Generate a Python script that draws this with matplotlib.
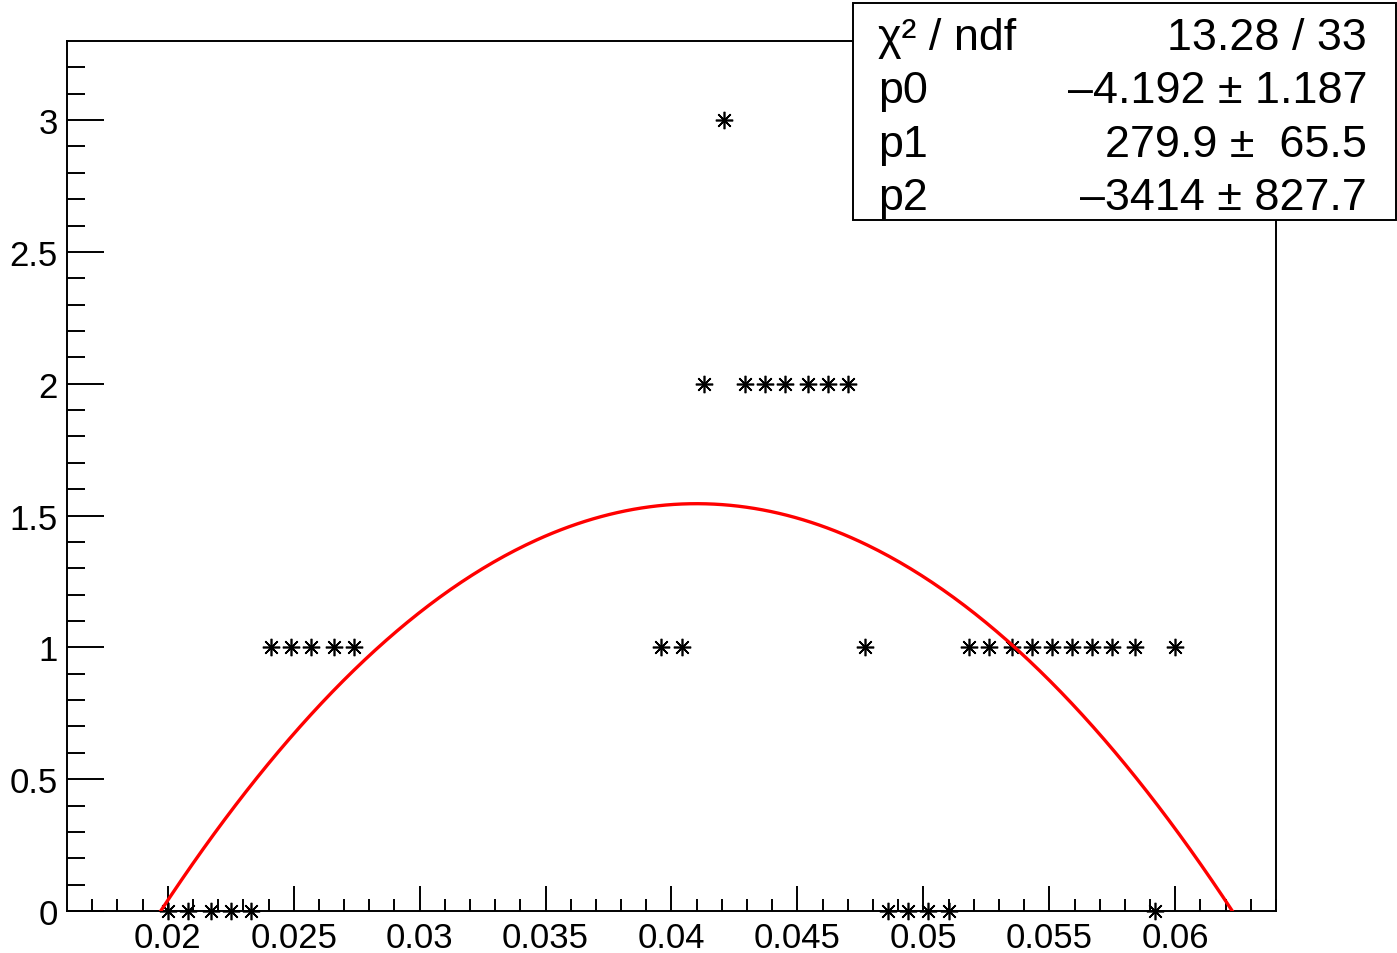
import numpy as np
import matplotlib
matplotlib.use("Agg")
import matplotlib.pyplot as plt

plt.rcParams['font.family'] = ['Liberation Sans', 'DejaVu Sans']

# histogram entries (x, content)
x_zero = [0.0200, 0.0208, 0.0217, 0.0225, 0.0233,
          0.0486, 0.0494, 0.0502, 0.0510, 0.0592]
x_one = [0.0241, 0.0249, 0.0257, 0.0266, 0.0274,
         0.0396, 0.0404, 0.0477,
         0.0518, 0.0526, 0.0535, 0.0543, 0.0551, 0.0559, 0.0567, 0.0575, 0.0584,
         0.0600]
x_two = [0.0413, 0.0429, 0.0437, 0.0445, 0.0454, 0.0462, 0.0470]
x_three = [0.0421]

# pol2 fit result
p0, p1, p2 = -4.192, 279.9, -3414.0
fit_range = (0.0197, 0.0623)

stat_names = ["\u03c7\u00b2 / ndf", "p0", "p1", "p2"]
stat_values = ["13.28 / 33", "\u20134.192 \u00b1 1.187",
               "279.9 \u00b1  65.5", "\u20133414 \u00b1 827.7"]

xticks = [0.02, 0.025, 0.03, 0.035, 0.04, 0.045, 0.05, 0.055, 0.06]
xticklabels = ["0.02", "0.025", "0.03", "0.035", "0.04", "0.045", "0.05", "0.055", "0.06"]
yticks = [0, 0.5, 1, 1.5, 2, 2.5, 3]
yticklabels = ["0", "0.5", "1", "1.5", "2", "2.5", "3"]

fig = plt.figure(figsize=(13.97, 9.54), dpi=100)
ax = fig.add_axes([67 / 1397, 42 / 954, (1276 - 67) / 1397, (912 - 42) / 954])

# points
xs = x_zero + x_one + x_two + x_three
ys = [0] * len(x_zero) + [1] * len(x_one) + [2] * len(x_two) + [3] * len(x_three)
ax.plot(xs, ys, linestyle='none', marker=(8, 2, 0), markersize=12.5,
        markeredgewidth=1.2, color='black', clip_on=False, zorder=3)

# fit curve
xf = np.linspace(fit_range[0], fit_range[1], 400)
yf = p0 + p1 * xf + p2 * xf ** 2
ax.plot(xf, yf, color='#ff0000', linewidth=2.4, zorder=4)

ax.set_xlim(0.016, 0.064)
ax.set_ylim(0, 3.3)

ax.set_xticks(xticks)
ax.set_xticklabels(xticklabels)
ax.set_xticks(np.arange(0.017, 0.0641, 0.001), minor=True)
ax.set_yticks(yticks)
ax.set_yticklabels(yticklabels)
ax.set_yticks(np.arange(0.1, 3.25, 0.1), minor=True)

ax.tick_params(axis='both', which='both', direction='in', top=False, right=False,
               width=1.4, labelsize=25, color='black')
ax.tick_params(axis='x', which='major', length=18, pad=7)
ax.tick_params(axis='x', which='minor', length=9)
ax.tick_params(axis='y', which='major', length=26.4, pad=6.5)
ax.tick_params(axis='y', which='minor', length=13)
for sp in ax.spines.values():
    sp.set_linewidth(1.4)

# stat box
bx0, bx1 = 853 / 1397, 1396 / 1397
by0, by1 = 1 - 221 / 954, 1 - 4 / 954
fig.patches.append(plt.Rectangle((bx0, by0), bx1 - bx0, by1 - by0,
                                 transform=fig.transFigure, facecolor='white',
                                 edgecolor='black', linewidth=1.4, zorder=5))
baselines = [50, 103, 157, 210]
for name, val, b in zip(stat_names, stat_values, baselines):
    yb = 1 - b / 954
    fig.text(878 / 1397, yb, name, fontsize=32.3, ha='left', va='baseline', zorder=6)
    fig.text(1367 / 1397, yb, val, fontsize=32.3, ha='right', va='baseline', zorder=6)

fig.savefig("out.png", dpi=100)
